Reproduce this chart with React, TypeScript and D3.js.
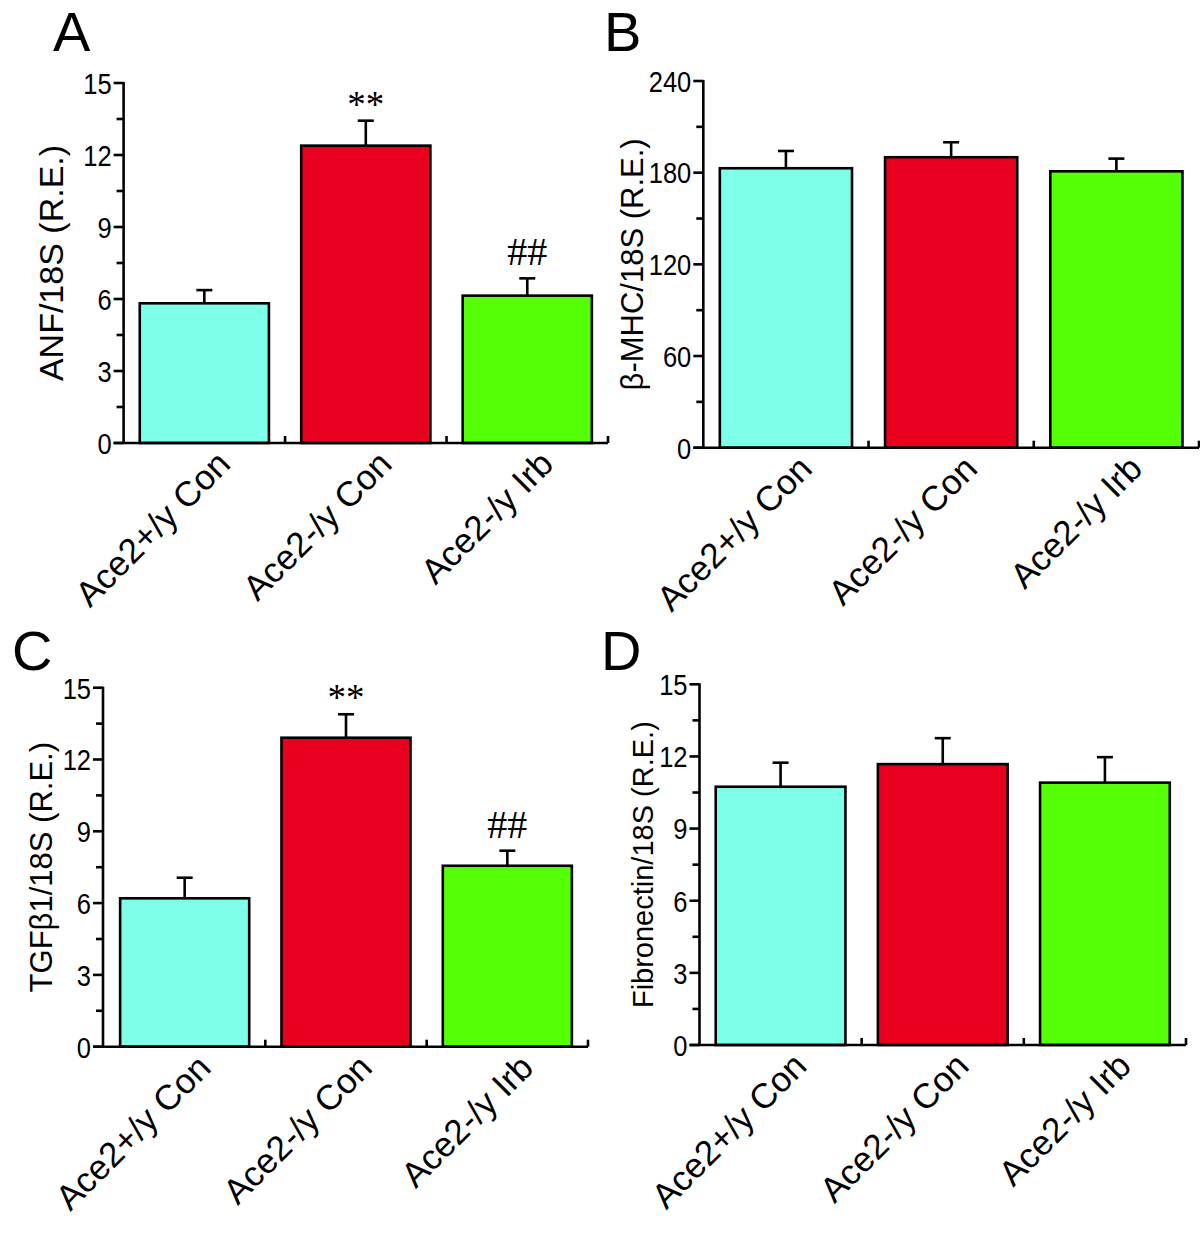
import React from "react";
import * as d3 from "d3";

const categories = ["Ace2+/y Con", "Ace2-/y Con", "Ace2-/y Irb"];
const barColors = ["#7DFFE9", "#E8001E", "#55FF05"];

const anfMean = [5.82, 12.39, 6.14];
const anfErr = [0.55, 1.04, 0.72];
const mhcMean = [182.9, 190.1, 180.9];
const mhcErr = [11.3, 9.8, 8.3];
const tgfMean = [6.2, 12.91, 7.56];
const tgfErr = [0.86, 0.98, 0.63];
const fibMean = [10.74, 11.68, 10.91];
const fibErr = [1.0, 1.08, 1.06];

const sigMarks = ["", "**", "##"];
const noMarks = ["", "", ""];

const ticks15 = [0, 3, 6, 9, 12, 15];
const ticks240 = [0, 60, 120, 180, 240];

type Panel = {
  letter: string;
  title: string;
  mean: number[];
  err: number[];
  marks: string[];
  ticks: number[];
  max: number;
  axisX: number;
  xStart: number;
  xEnd: number;
  yTop: number;
  yBottom: number;
  letterX: number;
  letterY: number;
  titleX: number;
  titleSize: number;
};

const panels: Panel[] = [
  { letter: "A", title: "ANF/18S (R.E.)", mean: anfMean, err: anfErr, marks: sigMarks, ticks: ticks15, max: 15,
    axisX: 123.6, xStart: 123.6, xEnd: 608, yTop: 83, yBottom: 443, letterX: 53, letterY: 51, titleX: 63, titleSize: 34 },
  { letter: "B", title: "β-MHC/18S (R.E.)", mean: mhcMean, err: mhcErr, marks: noMarks, ticks: ticks240, max: 240,
    axisX: 703.3, xStart: 703.3, xEnd: 1199, yTop: 81, yBottom: 447.7, letterX: 604, letterY: 51, titleX: 643, titleSize: 31 },
  { letter: "C", title: "TGFβ1/18S (R.E.)", mean: tgfMean, err: tgfErr, marks: sigMarks, ticks: ticks15, max: 15,
    axisX: 103, xStart: 104, xEnd: 588, yTop: 687.7, yBottom: 1046.7, letterX: 12, letterY: 670, titleX: 52, titleSize: 31 },
  { letter: "D", title: "Fibronectin/18S (R.E.)", mean: fibMean, err: fibErr, marks: noMarks, ticks: ticks15, max: 15,
    axisX: 699.5, xStart: 699.5, xEnd: 1186, yTop: 684.3, yBottom: 1045, letterX: 601, letterY: 670, titleX: 653, titleSize: 29 },
];

const SANS = "'Liberation Sans', Arial, Helvetica, sans-serif";
const SERIF = "'Liberation Serif', 'Times New Roman', serif";

function BarPanel({ p }: { p: Panel }) {
  const x = d3.scaleBand<string>().domain(categories).range([p.xStart, p.xEnd]).paddingInner(0.2).paddingOuter(0.1);
  const y = d3.scaleLinear().domain([0, p.max]).range([p.yBottom, p.yTop]);
  const step = p.ticks[1] - p.ticks[0];
  const minor = p.ticks.slice(0, -1).map((t) => t + step / 2);
  const bounds = categories.map((c) => (x(c) as number) + x.bandwidth() + (x.step() - x.bandwidth()) / 2);
  const sw = 2.6;
  const midY = (p.yTop + p.yBottom) / 2;
  return (
    <g>
      <text x={p.letterX} y={p.letterY} fontFamily={SANS} fontSize={56}>{p.letter}</text>
      <text
        transform={`translate(${p.titleX},${midY}) rotate(-90)`}
        textAnchor="middle"
        fontFamily={SANS}
        fontSize={p.titleSize}
      >
        {p.title}
      </text>
      {categories.map((c, i) => {
        const bx = x(c) as number;
        const cx = bx + x.bandwidth() / 2;
        const top = y(p.mean[i]);
        const et = y(p.mean[i] + p.err[i]);
        return (
          <g key={c}>
            <line x1={cx} x2={cx} y1={top} y2={et} stroke="#000" strokeWidth={sw} />
            <line x1={cx - 8} x2={cx + 8} y1={et} y2={et} stroke="#000" strokeWidth={sw} />
            <rect x={bx} y={top} width={x.bandwidth()} height={p.yBottom - top} fill={barColors[i]} stroke="#000" strokeWidth={sw} />
            {p.marks[i] === "**" && (
              <text x={cx} y={et - 4} textAnchor="middle" fontFamily={SERIF} fontSize={37}>**</text>
            )}
            {p.marks[i] === "##" && (
              <text x={cx} y={et - 13} textAnchor="middle" fontFamily={SERIF} fontSize={40}>##</text>
            )}
            <text
              transform={`translate(${cx + 28},${p.yBottom + 23}) rotate(-45)`}
              textAnchor="end"
              fontFamily={SANS}
              fontSize={35}
            >
              {c}
            </text>
          </g>
        );
      })}
      {/* y axis */}
      <line x1={p.axisX} x2={p.axisX} y1={p.yTop - 1} y2={p.yBottom} stroke="#000" strokeWidth={sw} />
      {p.ticks.map((t) => (
        <g key={"t" + t}>
          <line x1={p.axisX - 10} x2={p.axisX} y1={y(t)} y2={y(t)} stroke="#000" strokeWidth={sw} />
          <text
            transform={`translate(${p.axisX - 12},${y(t)}) scale(0.85,1)`}
            dy="0.36em"
            textAnchor="end"
            fontFamily={SANS}
            fontSize={30}
          >
            {t}
          </text>
        </g>
      ))}
      {minor.map((t) => (
        <line key={"m" + t} x1={p.axisX - 7} x2={p.axisX} y1={y(t)} y2={y(t)} stroke="#000" strokeWidth={sw} />
      ))}
      {/* x axis */}
      <line x1={p.axisX - 10} x2={p.xEnd} y1={p.yBottom} y2={p.yBottom} stroke="#000" strokeWidth={sw} />
      {bounds.map((b, i) => (
        <line key={"b" + i} x1={b} x2={b} y1={p.yBottom} y2={p.yBottom - 7} stroke="#000" strokeWidth={sw} />
      ))}
    </g>
  );
}

export default function App() {
  return (
    <svg
      width={1200}
      height={1260}
      viewBox="0 0 1200 1260"
      style={{ position: "absolute", left: 0, top: 0, background: "#fff" }}
    >
      <rect x={0} y={0} width={1200} height={1260} fill="#fff" />
      {panels.map((p) => (
        <BarPanel key={p.letter} p={p} />
      ))}
    </svg>
  );
}
